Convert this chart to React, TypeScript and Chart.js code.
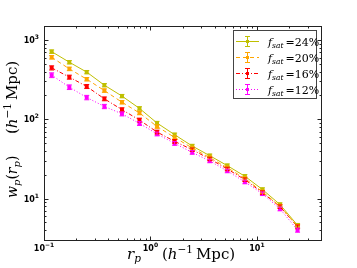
import React, { useEffect, useRef } from "react";
import { Chart, registerables } from "chart.js";

Chart.register(...registerables);

// ---- data ----
const rp = [0.118, 0.173, 0.252, 0.369, 0.54, 0.789, 1.153, 1.687, 2.466, 3.606, 5.27, 7.71, 11.27, 16.48, 24.1];
const wp24 = [713, 524, 393, 269, 196, 137, 89.6, 63.8, 46.0, 34.7, 26.0, 19.1, 13.0, 8.4, 4.6];
const wp20 = [605, 432, 320, 230, 164, 120, 81, 59, 43.4, 32.8, 24.5, 17.9, 12.2, 8.0, 4.45];
const wp16 = [445, 340, 259, 181, 132, 97.7, 69, 52.6, 41.3, 31.6, 23.6, 17.3, 11.9, 7.9, 4.4];
const wp12 = [360, 254, 188, 145, 117, 88.5, 65.3, 49.6, 38.2, 29.8, 22.3, 16.2, 11.5, 7.4, 4.0];
const err24 = [36, 26, 19, 13, 9.5, 6.8, 4.4, 3.1, 2.3, 1.7, 1.3, 0.95, 0.65, 0.42, 0.25];
const err20 = [31, 22, 16, 11.5, 8.2, 6.0, 4.0, 2.9, 2.2, 1.6, 1.2, 0.9, 0.6, 0.4, 0.24];
const err16 = [27, 20, 15, 10, 7.5, 5.5, 3.8, 2.8, 2.1, 1.6, 1.2, 0.9, 0.6, 0.4, 0.24];
const err12 = [25, 17, 12, 9, 6.8, 5.0, 3.6, 2.7, 2.0, 1.5, 1.15, 0.85, 0.6, 0.4, 0.24];
const seriesLabels = ["24%", "20%", "16%", "12%"];
const xTickValues = [0.1, 1, 10];
const xTickExps = ["\u22121", "0", "1"];
const yTickValues = [10, 100, 1000];
const yTickExps = ["1", "2", "3"];

const COLORS = ["#bfbf00", "#ffa500", "#ff0000", "#ff00ff"];
const DASHES: number[][] = [[], [4, 3], [4, 2, 1, 2], [1, 2]];

const SERIES = [wp24, wp20, wp16, wp12];
const ERRS = [err24, err20, err16, err12];

type Run = { t: string; f: string; dy?: number };

function runsWidth(ctx: CanvasRenderingContext2D, runs: Run[]) {
  let w = 0;
  for (const r of runs) {
    ctx.font = r.f;
    w += ctx.measureText(r.t).width;
  }
  return w;
}

function drawRuns(ctx: CanvasRenderingContext2D, runs: Run[], x: number, y: number, align: "left" | "center" | "right") {
  const w = runsWidth(ctx, runs);
  let cx = align === "left" ? x : align === "center" ? x - w / 2 : x - w;
  ctx.textBaseline = "alphabetic";
  ctx.textAlign = "left";
  for (const r of runs) {
    ctx.font = r.f;
    ctx.fillText(r.t, cx, y + (r.dy || 0));
    cx += ctx.measureText(r.t).width;
  }
}

const SERIF = "'DejaVu Serif'";
const SANS = "'DejaVu Sans'";

function drawErrorBar(ctx: CanvasRenderingContext2D, x: number, y1: number, y2: number, color: string) {
  ctx.save();
  ctx.strokeStyle = color;
  ctx.lineWidth = 1;
  ctx.setLineDash([]);
  ctx.beginPath();
  ctx.moveTo(x, y1);
  ctx.lineTo(x, y2);
  ctx.moveTo(x - 2.5, y1);
  ctx.lineTo(x + 2.5, y1);
  ctx.moveTo(x - 2.5, y2);
  ctx.lineTo(x + 2.5, y2);
  ctx.stroke();
  ctx.restore();
}

const decorPlugin = {
  id: "decor",
  afterDatasetsDraw(chart: any) {
    const ctx: CanvasRenderingContext2D = chart.ctx;
    const xs = chart.scales.x;
    const ys = chart.scales.y;
    SERIES.forEach((vals, si) => {
      vals.forEach((v, i) => {
        const x = xs.getPixelForValue(rp[i]);
        const yTop = ys.getPixelForValue(v + ERRS[si][i]);
        const yBot = ys.getPixelForValue(v - ERRS[si][i]);
        drawErrorBar(ctx, x, yTop, yBot, COLORS[si]);
      });
    });
  },
  afterDraw(chart: any) {
    const ctx: CanvasRenderingContext2D = chart.ctx;
    const a = chart.chartArea;
    const xs = chart.scales.x;
    const ys = chart.scales.y;
    ctx.save();
    // frame
    ctx.strokeStyle = "#222";
    ctx.lineWidth = 1;
    ctx.setLineDash([]);
    const L = Math.round(a.left) + 0.5;
    const R = Math.round(a.right) + 0.5;
    const T = Math.round(a.top) + 0.5;
    const B = Math.round(a.bottom) + 0.5;
    ctx.strokeRect(L, T, R - L, B - T);

    // ticks
    ctx.beginPath();
    for (let e = -1; e <= 1; e++) {
      for (let k = 1; k <= 9; k++) {
        const v = k * Math.pow(10, e);
        if (v < xs.min - 1e-9 || v > xs.max + 1e-9) continue;
        const px = Math.round(xs.getPixelForValue(v)) + 0.5;
        const len = k === 1 ? 4 : 2;
        ctx.moveTo(px, B);
        ctx.lineTo(px, B - len);
        ctx.moveTo(px, T);
        ctx.lineTo(px, T + len);
      }
    }
    for (let e = 0; e <= 3; e++) {
      for (let k = 1; k <= 9; k++) {
        const v = k * Math.pow(10, e);
        if (v < ys.min - 1e-9 || v > ys.max + 1e-9) continue;
        const py = Math.round(ys.getPixelForValue(v)) + 0.5;
        const len = k === 1 ? 4 : 2;
        ctx.moveTo(L, py);
        ctx.lineTo(L + len, py);
        ctx.moveTo(R, py);
        ctx.lineTo(R - len, py);
      }
    }
    ctx.stroke();

    // tick labels
    ctx.fillStyle = "#000";
    xTickValues.forEach((v, i) => {
      const px = xs.getPixelForValue(v);
      drawRuns(
        ctx,
        [
          { t: "10", f: `bold 8px ${SANS}` },
          { t: xTickExps[i], f: `bold 6px ${SANS}`, dy: -4 },
        ],
        px,
        251,
        "center"
      );
    });
    yTickValues.forEach((v, i) => {
      const py = ys.getPixelForValue(v);
      drawRuns(
        ctx,
        [
          { t: "10", f: `bold 8px ${SANS}` },
          { t: yTickExps[i], f: `bold 6px ${SANS}`, dy: -4 },
        ],
        39,
        py + 3,
        "right"
      );
    });

    // axis labels
    const unitRuns: Run[] = [
      { t: "(", f: `15px ${SERIF}` },
      { t: "h", f: `italic 15px ${SERIF}` },
      { t: "\u22121", f: `10.5px ${SERIF}`, dy: -6 },
      { t: "\u2009Mpc)", f: `15px ${SERIF}` },
    ];
    drawRuns(
      ctx,
      [
        { t: "r", f: `italic 15px ${SERIF}` },
        { t: "p", f: `italic 10.5px ${SERIF}`, dy: 3 },
      ],
      127,
      259,
      "left"
    );
    drawRuns(ctx, unitRuns, 162, 259, "left");

    ctx.save();
    ctx.translate(17, 198);
    ctx.rotate(-Math.PI / 2);
    drawRuns(
      ctx,
      [
        { t: "w", f: `italic 14px ${SERIF}` },
        { t: "p", f: `italic 10px ${SERIF}`, dy: 3 },
        { t: "(", f: `14px ${SERIF}` },
        { t: "r", f: `italic 14px ${SERIF}` },
        { t: "p", f: `italic 10px ${SERIF}`, dy: 3 },
        { t: ")", f: `14px ${SERIF}` },
      ],
      0,
      0,
      "left"
    );
    drawRuns(ctx, unitRuns, 64, 0, "left");
    ctx.restore();

    // legend
    const bx = 233.5, by = 30.5, bw = 83, bh = 68;
    ctx.fillStyle = "#fff";
    ctx.fillRect(bx, by, bw, bh);
    ctx.strokeStyle = "#444";
    ctx.lineWidth = 1;
    ctx.strokeRect(bx, by, bw, bh);
    const rowsY = [41, 57, 73, 89];
    seriesLabels.forEach((lab, i) => {
      const y = rowsY[i] + 0.5;
      ctx.save();
      ctx.strokeStyle = COLORS[i];
      ctx.lineWidth = 1;
      ctx.setLineDash(DASHES[i]);
      ctx.beginPath();
      ctx.moveTo(236, y);
      ctx.lineTo(259, y);
      ctx.stroke();
      ctx.restore();
      drawErrorBar(ctx, 247.5, y - 5, y + 5, COLORS[i]);
      ctx.fillStyle = COLORS[i];
      ctx.fillRect(246, y - 1.5, 3, 3);
      ctx.fillStyle = "#000";
      drawRuns(
        ctx,
        [
          { t: "f", f: `italic 11px ${SERIF}` },
          { t: "sat", f: `italic 7.5px ${SERIF}`, dy: 2.5 },
          { t: "\u2009=" + lab, f: `11px ${SERIF}` },
        ],
        268,
        y + 4,
        "left"
      );
    });
    ctx.restore();
  },
};

export default function App() {
  const ref = useRef<HTMLCanvasElement | null>(null);
  useEffect(() => {
    if (!ref.current) return;
    const datasets = SERIES.map((vals, si) => ({
      label: seriesLabels[si],
      data: vals.map((v, i) => ({ x: rp[i], y: v })),
      borderColor: COLORS[si],
      backgroundColor: COLORS[si],
      borderWidth: 1,
      borderDash: DASHES[si],
      pointStyle: "rect" as const,
      pointRadius: 2.8,
      pointBorderWidth: 0,
      pointBackgroundColor: COLORS[si],
      tension: 0,
      fill: false,
    }));
    const chart = new Chart(ref.current, {
      type: "line",
      data: { datasets },
      options: {
        responsive: false,
        animation: false,
        devicePixelRatio: 1,
        layout: { padding: { left: 44, top: 26, right: 36, bottom: 28 } },
        plugins: { legend: { display: false }, tooltip: { enabled: false } },
        scales: {
          x: { type: "logarithmic", min: 0.1, max: 40, display: false, bounds: "data" },
          y: { type: "logarithmic", min: 3, max: 1500, display: false, bounds: "data" },
        },
      },
      plugins: [decorPlugin],
    });
    return () => chart.destroy();
  }, []);
  return (
    <div style={{ position: "fixed", left: 0, top: 0, width: 357, height: 268, background: "#fff" }}>
      <canvas ref={ref} width={357} height={268} style={{ display: "block" }} />
    </div>
  );
}
